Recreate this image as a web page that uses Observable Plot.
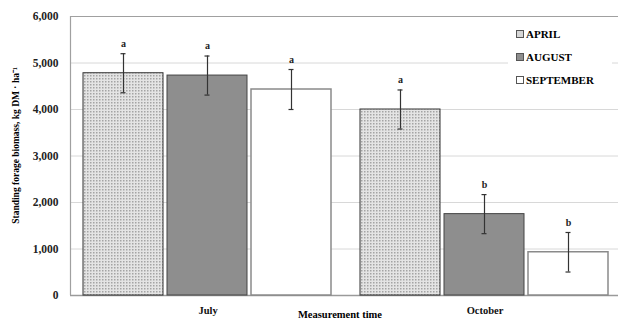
<!DOCTYPE html>
<html><head><meta charset="utf-8">
<script src="https://cdn.jsdelivr.net/npm/d3@7"></script>
<script src="https://cdn.jsdelivr.net/npm/@observablehq/plot@0.6"></script>
<style>
body{margin:0;background:#fff;}
#wrap{position:relative;width:620px;height:320px;font-family:"Liberation Serif",serif;}
#wrap svg{position:absolute;left:0;top:0;}
#legend{position:absolute;left:508px;top:25px;width:104px;height:70px;background:#fff;font-weight:bold;font-size:11px;}
#legend div{position:absolute;left:8px;display:flex;align-items:center;white-space:nowrap;}
#legend span.sw{display:inline-block;width:6px;height:6px;border:1px solid #555;margin-right:2px;}
#xlab{position:absolute;left:0;width:680px;text-align:center;top:309px;font-weight:bold;font-size:10.5px;}
#ylab{position:absolute;font-weight:bold;font-size:9.5px;white-space:nowrap;transform-origin:center;}
</style></head>
<body><div id="wrap"></div>
<script>
const periods = ["July", "October"];
const months = ["APRIL", "AUGUST", "SEPTEMBER"];
const julyValues = [4780, 4730, 4430];
const octoberValues = [4000, 1750, 930];
const julyErrors = [420, 420, 430];
const octoberErrors = [420, 420, 425];
const julyLetters = ["a", "a", "a"];
const octoberLetters = ["a", "b", "b"];
const yTicks = [0, 1000, 2000, 3000, 4000, 5000, 6000];
const yLabel = "Standing forage biomass, kg DM · ha⁻¹";
const xLabel = "Measurement time";

const rows = [];
months.forEach((m, i) => {
  rows.push({period: periods[0], month: m, value: julyValues[i], err: julyErrors[i], letter: julyLetters[i]});
  rows.push({period: periods[1], month: m, value: octoberValues[i], err: octoberErrors[i], letter: octoberLetters[i]});
});

const W = 620, H = 320;
const M = {left: 70, right: 2, top: 16, bottom: 25};
const font = {fontFamily: "Liberation Serif, serif", fontWeight: "bold"};

const bg = Plot.plot({
  width: W, height: H,
  marginLeft: M.left, marginRight: M.right, marginTop: M.top, marginBottom: M.bottom,
  style: {...font, fontSize: "11.5px", background: "white", color: "#222"},
  x: {domain: [0, 1], axis: null},
  y: {domain: [0, 6000], ticks: yTicks, tickSize: 0, tickPadding: 12, tickFormat: d3.format(","), label: null},
  marks: [
    Plot.ruleY(yTicks.slice(1, -1), {stroke: "#d8d8d8", strokeWidth: 1}),
    Plot.ruleY([6000], {stroke: "#a0a0a0", strokeWidth: 1.2}),
    Plot.ruleY([0], {stroke: "#9a9a9a", strokeWidth: 1.5}),
    Plot.ruleX([0], {y1: 0, y2: 6000, stroke: "#a0a0a0", strokeWidth: 1.2})
  ]
});

const fg = Plot.plot({
  width: W, height: H,
  marginLeft: 74, marginRight: 2, marginTop: M.top, marginBottom: M.bottom,
  style: {...font, fontSize: "10.5px", background: "none", color: "#111"},
  fx: {domain: periods, paddingInner: 0.1, paddingOuter: 0.03, label: null, tickSize: 0, tickPadding: 11},
  x: {domain: months, paddingInner: 0.045, paddingOuter: 0, axis: null},
  y: {domain: [0, 6000], axis: null},
  marks: [
    Plot.barY(rows, {filter: d => d.month === "APRIL", fx: "period", x: "month", y: "value", fill: "url(#dots)", stroke: "#333", strokeWidth: 1}),
    Plot.barY(rows, {filter: d => d.month === "AUGUST", fx: "period", x: "month", y: "value", fill: "#8e8e8e", stroke: "#444", strokeWidth: 1}),
    Plot.barY(rows, {filter: d => d.month === "SEPTEMBER", fx: "period", x: "month", y: "value", fill: "#ffffff", stroke: "#8a8a8a", strokeWidth: 1.5}),
    Plot.ruleX(rows, {fx: "period", x: "month", y1: d => d.value - d.err, y2: d => d.value + d.err, stroke: "#333", strokeWidth: 1.2}),
    Plot.tickY(rows, {fx: "period", x: "month", y: d => d.value + d.err, insetLeft: 37.5, insetRight: 37.5, stroke: "#333", strokeWidth: 1.2}),
    Plot.tickY(rows, {fx: "period", x: "month", y: d => d.value - d.err, insetLeft: 37.5, insetRight: 37.5, stroke: "#333", strokeWidth: 1.2}),
    Plot.text(rows, {fx: "period", x: "month", y: d => d.value + d.err, text: "letter", dy: -10, fontSize: 10, fontWeight: "bold", fill: "#222"})
  ]
});

const defs = d3.select(fg).insert("defs", ":first-child");
const pat = defs.append("pattern").attr("id", "dots").attr("patternUnits", "userSpaceOnUse").attr("width", 3).attr("height", 3);
pat.append("rect").attr("width", 3).attr("height", 3).attr("fill", "#e4e4e4");
pat.append("rect").attr("width", 1.5).attr("height", 1.5).attr("fill", "#a4a4a4");

const wrap = document.getElementById("wrap");
wrap.appendChild(bg);
wrap.appendChild(fg);

const legend = document.createElement("div");
legend.id = "legend";
const swatch = {APRIL: "background:#d6d6d6;", AUGUST: "background:#8e8e8e;", SEPTEMBER: "background:#fff;"};
months.forEach((m, i) => {
  const item = document.createElement("div");
  item.style.top = (3 + i * 23) + "px";
  item.innerHTML = `<span class="sw" style="${swatch[m]}"></span>${m}`;
  legend.appendChild(item);
});
wrap.appendChild(legend);

const xl = document.createElement("div");
xl.id = "xlab"; xl.textContent = xLabel;
wrap.appendChild(xl);

const yl = document.createElement("div");
yl.id = "ylab"; yl.textContent = yLabel;
wrap.appendChild(yl);
const w = yl.offsetWidth, h = yl.offsetHeight;
yl.style.left = (15 - w / 2) + "px";
yl.style.top = (145 - h / 2) + "px";
yl.style.transform = "rotate(-90deg)";
</script>
</body></html>
